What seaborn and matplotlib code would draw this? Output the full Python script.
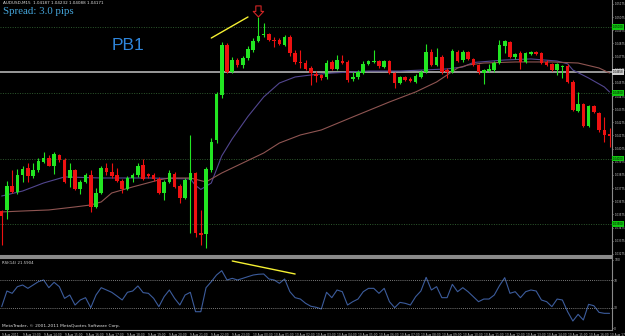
import numpy as np
import pandas as pd
import matplotlib
matplotlib.use("Agg")
import matplotlib.pyplot as plt
import seaborn as sns

# ---------------- data (AUDUSD M15) ----------------
open_ = [1.03601, 1.03609, 1.03791, 1.03746, 1.03875, 1.03928, 1.03867, 1.03913, 1.03974, 1.04004,
         1.03943, 1.04027, 1.03989, 1.03852, 1.03913, 1.03769, 1.03822, 1.03875, 1.03632, 1.03738,
         1.03928, 1.03898, 1.03875, 1.03829, 1.03769, 1.03852, 1.03875, 1.03951, 1.03883, 1.03875,
         1.03845, 1.03738, 1.03822, 1.03883, 1.03791, 1.03700, 1.03837, 1.03890, 1.03434, 1.03427,
         1.03913, 1.04141, 1.04483, 1.04863, 1.04658, 1.04749, 1.04711, 1.04764, 1.04825, 1.04893,
         1.04939, 1.04947, 1.04901, 1.04901, 1.04863, 1.04924, 1.04802, 1.04734, 1.04726, 1.04688,
         1.04643, 1.04635, 1.04620, 1.04734, 1.04681, 1.04741, 1.04734, 1.04605, 1.04620, 1.04650,
         1.04719, 1.04734, 1.04741, 1.04696, 1.04741, 1.04650, 1.04574, 1.04620, 1.04605, 1.04582,
         1.04620, 1.04658, 1.04810, 1.04711, 1.04772, 1.04673, 1.04658, 1.04810, 1.04749, 1.04810,
         1.04757, 1.04711, 1.04650, 1.04665, 1.04673, 1.04726, 1.04855, 1.04886, 1.04772, 1.04802,
         1.04734, 1.04795, 1.04810, 1.04802, 1.04734, 1.04719, 1.04673, 1.04696, 1.04703, 1.04582,
         1.04361, 1.04415, 1.04247, 1.04400, 1.04346, 1.04217, 1.04187]
high = [1.03609, 1.03829, 1.03913, 1.03921, 1.03943, 1.03966, 1.03966, 1.04004, 1.04050, 1.04027,
        1.04050, 1.04035, 1.04004, 1.03966, 1.03921, 1.03837, 1.03890, 1.03913, 1.03776, 1.03943,
        1.03966, 1.03966, 1.03928, 1.03845, 1.03867, 1.03890, 1.03966, 1.03997, 1.03890, 1.03890,
        1.03860, 1.03837, 1.03913, 1.03898, 1.03807, 1.03852, 1.04179, 1.03898, 1.03609, 1.03936,
        1.04156, 1.04506, 1.04886, 1.04878, 1.04772, 1.04764, 1.04779, 1.04855, 1.04916, 1.05076,
        1.05030, 1.04954, 1.04924, 1.04916, 1.04939, 1.04939, 1.04825, 1.04825, 1.04749, 1.04703,
        1.04665, 1.04643, 1.04749, 1.04749, 1.04787, 1.04787, 1.04749, 1.04658, 1.04673, 1.04741,
        1.04749, 1.04825, 1.04749, 1.04749, 1.04749, 1.04658, 1.04627, 1.04627, 1.04620, 1.04643,
        1.04673, 1.04871, 1.04833, 1.04840, 1.04787, 1.04688, 1.04833, 1.04825, 1.04825, 1.04817,
        1.04764, 1.04719, 1.04681, 1.04719, 1.04741, 1.04901, 1.04901, 1.04893, 1.04802, 1.04817,
        1.04810, 1.04817, 1.04817, 1.04810, 1.04749, 1.04726, 1.04726, 1.04711, 1.04719, 1.04597,
        1.04506, 1.04422, 1.04407, 1.04407, 1.04354, 1.04316, 1.04232]
low = [1.03343, 1.03541, 1.03738, 1.03731, 1.03822, 1.03822, 1.03852, 1.03898, 1.03966, 1.03940,
       1.03883, 1.03974, 1.03814, 1.03784, 1.03761, 1.03731, 1.03814, 1.03594, 1.03624, 1.03731,
       1.03875, 1.03852, 1.03822, 1.03738, 1.03761, 1.03822, 1.03860, 1.03837, 1.03852, 1.03829,
       1.03731, 1.03685, 1.03814, 1.03776, 1.03662, 1.03693, 1.03434, 1.03404, 1.03343, 1.03320,
       1.03898, 1.04118, 1.04460, 1.04650, 1.04650, 1.04696, 1.04688, 1.04749, 1.04810, 1.04886,
       1.04924, 1.04893, 1.04848, 1.04863, 1.04855, 1.04779, 1.04719, 1.04688, 1.04673, 1.04559,
       1.04582, 1.04597, 1.04605, 1.04673, 1.04673, 1.04719, 1.04582, 1.04589, 1.04605, 1.04643,
       1.04711, 1.04726, 1.04688, 1.04688, 1.04643, 1.04536, 1.04567, 1.04589, 1.04582, 1.04574,
       1.04612, 1.04650, 1.04703, 1.04703, 1.04643, 1.04612, 1.04650, 1.04734, 1.04734, 1.04749,
       1.04703, 1.04643, 1.04567, 1.04658, 1.04658, 1.04719, 1.04802, 1.04764, 1.04757, 1.04681,
       1.04726, 1.04787, 1.04787, 1.04719, 1.04703, 1.04665, 1.04635, 1.04612, 1.04574, 1.04361,
       1.04354, 1.04240, 1.04240, 1.04346, 1.04202, 1.04126, 1.04088]
close = [1.03563, 1.03791, 1.03746, 1.03875, 1.03921, 1.03867, 1.03913, 1.03981, 1.04004, 1.03943,
         1.04035, 1.03989, 1.03822, 1.03913, 1.03769, 1.03822, 1.03875, 1.03632, 1.03738, 1.03928,
         1.03898, 1.03867, 1.03829, 1.03769, 1.03852, 1.03875, 1.03943, 1.03845, 1.03867, 1.03845,
         1.03738, 1.03822, 1.03890, 1.03784, 1.03700, 1.03837, 1.03890, 1.03434, 1.03419, 1.03921,
         1.04126, 1.04491, 1.04863, 1.04658, 1.04749, 1.04711, 1.04764, 1.04833, 1.04893, 1.04931,
         1.04947, 1.04901, 1.04893, 1.04871, 1.04924, 1.04802, 1.04734, 1.04726, 1.04681, 1.04650,
         1.04627, 1.04612, 1.04726, 1.04681, 1.04749, 1.04726, 1.04597, 1.04620, 1.04658, 1.04719,
         1.04741, 1.04741, 1.04703, 1.04741, 1.04650, 1.04574, 1.04620, 1.04597, 1.04589, 1.04627,
         1.04658, 1.04810, 1.04711, 1.04772, 1.04658, 1.04658, 1.04817, 1.04741, 1.04810, 1.04757,
         1.04711, 1.04658, 1.04673, 1.04681, 1.04726, 1.04863, 1.04893, 1.04772, 1.04795, 1.04734,
         1.04802, 1.04810, 1.04795, 1.04726, 1.04711, 1.04673, 1.04719, 1.04703, 1.04582, 1.04369,
         1.04415, 1.04247, 1.04400, 1.04354, 1.04217, 1.04179, 1.04171]

ma_fast_bar = [0, 4, 8, 12, 19, 28, 36, 37, 38, 40, 42, 44, 47, 50, 53, 56, 59, 63, 70, 76,
               85, 88, 90, 96, 101, 106, 108, 109, 112, 115, 116]
ma_fast = [1.03715, 1.03753, 1.03814, 1.03860, 1.03852, 1.03852, 1.03845, 1.03795, 1.03765, 1.03814,
           1.04020, 1.04150, 1.04320, 1.04468, 1.04574, 1.04620, 1.04635, 1.04650, 1.04665, 1.04665,
           1.04681, 1.04696, 1.04730, 1.04749, 1.04757, 1.04741, 1.04720, 1.04673, 1.04612, 1.04544,
           1.04506]
ma_slow_bar = [0, 4, 9, 14, 17, 19, 21, 25, 30, 32, 36, 39, 42, 46, 50, 53, 57, 61, 67, 74,
               79, 83, 87, 89, 92, 98, 105, 110, 114, 116]
ma_slow = [1.03594, 1.03601, 1.03609, 1.03632, 1.03647, 1.03670, 1.03738, 1.03784, 1.03837, 1.03852,
           1.03852, 1.03822, 1.03890, 1.03966, 1.04042, 1.04118, 1.04179, 1.04217, 1.04316, 1.04430,
           1.04506, 1.04582, 1.04688, 1.04711, 1.04726, 1.04734, 1.04734, 1.04726, 1.04688, 1.04650]

rsi = [31.4, 54.4, 51.0, 60.8, 63.2, 58.3, 63.2, 68.1, 70.6, 59.3,
       67.2, 60.8, 43.6, 48.5, 33.8, 41.2, 44.6, 29.9, 48.5, 59.3,
       55.9, 52.5, 47.0, 41.2, 52.5, 54.4, 61.8, 52.0, 51.0, 43.6,
       31.4, 46.1, 55.9, 43.6, 33.8, 48.5, 52.5, 24.0, 24.0, 59.3,
       68.1, 77.9, 84.3, 70.6, 73.0, 70.6, 73.0, 75.5, 77.9, 79.0,
       79.4, 72.1, 70.6, 65.7, 72.1, 53.4, 44.6, 42.6, 36.3, 32.0,
       30.5, 28.0, 52.5, 44.6, 55.9, 53.4, 33.8, 38.7, 42.6, 53.4,
       58.3, 58.3, 51.0, 58.3, 38.7, 29.9, 37.7, 36.3, 33.8, 46.1,
       54.4, 74.5, 55.9, 60.8, 44.6, 44.6, 64.2, 53.4, 59.3, 53.4,
       46.1, 38.7, 42.6, 42.6, 48.5, 62.3, 74.0, 51.0, 53.4, 44.6,
       53.4, 55.9, 54.4, 41.2, 38.7, 31.4, 42.6, 41.2, 24.0, 10.3,
       20.1, 11.8, 34.8, 32.8, 23.0, 21.6, 21.6]

time_labels = ["9 Aug 2011", "9 Aug 13:00", "9 Aug 14:00", "9 Aug 15:00", "9 Aug 16:00",
               "9 Aug 17:00", "9 Aug 18:00", "9 Aug 19:00", "9 Aug 20:00", "9 Aug 21:00",
               "9 Aug 22:00", "9 Aug 23:00", "10 Aug 00:00", "10 Aug 01:00", "10 Aug 02:00",
               "10 Aug 03:00", "10 Aug 04:00", "10 Aug 05:00", "10 Aug 06:00", "10 Aug 07:00",
               "10 Aug 08:00", "10 Aug 09:00", "10 Aug 10:00", "10 Aug 11:00", "10 Aug 12:00",
               "10 Aug 13:00", "10 Aug 14:00", "10 Aug 15:00", "10 Aug 16:00", "10 Aug 17:00"]
price_ticks = [1.05175, 1.05075, 1.04975, 1.04875, 1.04775, 1.04675, 1.04575, 1.04475, 1.04375,
               1.04275, 1.04175, 1.04075, 1.03975, 1.03875, 1.03775, 1.03675, 1.03575, 1.03475,
               1.03375, 1.03275]
level_prices = [1.05000, 1.04500, 1.04000, 1.03500]
hline_price = 1.04658
rsi_ticks = [100, 70, 30, 0]
rsi_levels = [70, 30]
trend_bar = [40, 47]
trend_price = [1.04916, 1.05076]
rsi_trend_bar = [44, 56]
rsi_trend_val = [98.5, 79.4]
arrow_bar = 49
arrow_tip, arrow_tail = 1.05076, 1.05160

# ---------------- style ----------------
sns.set_style("dark", {"axes.facecolor": "black", "figure.facecolor": "black",
                       "axes.edgecolor": "#8a8a8a", "text.color": "white"})
plt.rcParams["font.family"] = ["DejaVu Sans"]

W, H = 625, 336
fig = plt.figure(figsize=(W / 100, H / 100), dpi=100, facecolor="black")
ax = fig.add_axes([0, 1 - 256 / H, 612 / W, 256 / H])
ax2 = fig.add_axes([0, 6 / H, 612 / W, 72 / H])

n = len(close)
idx = np.arange(n)
o, hi, lo, c = (np.array(a) for a in (open_, high, low, close))
col = np.where(c >= o, "#22e622", "#ee1111")

ax.vlines(idx, lo, hi, colors=col, lw=0.8, zorder=3)
ax.bar(idx, np.maximum(np.abs(c - o), 0.00004), bottom=np.minimum(o, c), width=0.68,
       color=col, linewidth=0, zorder=4)

sns.lineplot(x=ma_fast_bar, y=ma_fast, ax=ax, color="#52468f", lw=0.8, zorder=2)
sns.lineplot(x=ma_slow_bar, y=ma_slow, ax=ax, color="#8f5552", lw=0.8, zorder=2)

for lv in level_prices:
    ax.axhline(lv, color="#2e5a2e", ls=(0, (1, 1.5)), lw=0.7, zorder=1)
    ax.text(1.001, lv, f"{lv:.5f}", transform=ax.get_yaxis_transform(), fontsize=1.9,
            color="black", va="center", ha="left", clip_on=False, zorder=10,
            bbox=dict(fc="#10c810", ec="none", pad=0.6))
ax.axhline(hline_price, color="#9a9a9a", lw=1.4, zorder=1)
ax.text(1.001, hline_price, f"{hline_price:.5f}", transform=ax.get_yaxis_transform(),
        fontsize=1.9, color="black", va="center", ha="left", clip_on=False, zorder=10,
        bbox=dict(fc="#d0d0d0", ec="none", pad=0.6))

ax.plot(trend_bar, trend_price, color="#f5f032", lw=1.0, zorder=5)
ax.annotate("", xy=(arrow_bar, arrow_tip), xytext=(arrow_bar, arrow_tail),
            arrowprops=dict(arrowstyle="simple,head_length=0.4,head_width=0.75,tail_width=0.38",
                            fc="black", ec="#d02525", lw=0.8, shrinkA=0, shrinkB=0), zorder=6)

ax.set_xlim(-0.32, 116.47)
ax.set_ylim(1.03259, 1.05205)
ax.yaxis.tick_right()
ax.set_yticks(price_ticks)
ax.set_yticklabels([f"{p:.5f}" for p in price_ticks])
ax.tick_params(axis="y", labelsize=1.9, colors="#c8c8c8", length=1, width=0.5, pad=0.6)
ax.set_xticks([])
ax.set_xlabel("")
ax.set_ylabel("")
for s in ("left", "top"):
    ax.spines[s].set_visible(False)
ax.spines["right"].set_color("#8a8a8a")
ax.spines["bottom"].set_color("#8a8a8a")
ax.spines["bottom"].set_linewidth(1.5)

# texts
fig.text(3 / W, 1 - 3.5 / H, "AUDUSD,M15  1.04187 1.04232 1.04088 1.04171", fontsize=3,
         color="#e0e0e0", va="center", ha="left")
fig.text(3 / W, 1 - 12 / H, "Spread: 3.0 pips", fontsize=7.8, family=["Liberation Serif"],
         color="#45a6dc", va="center", ha="left")
fig.text(112 / W, 1 - 46 / H, "PB1", fontsize=12.5, family=["Liberation Sans"],
         color="#2f86dc", va="center", ha="left")

# ---------------- RSI pane ----------------
sns.lineplot(x=idx, y=rsi, ax=ax2, color="#3c5c9c", lw=0.8)
for lv in rsi_levels:
    ax2.axhline(lv, color="#a0a0a0", ls=(0, (1, 1.5)), lw=0.6)
ax2.plot(rsi_trend_bar, rsi_trend_val, color="#f5f032", lw=1.0)
ax2.set_xlim(-0.32, 116.47)
ax2.set_ylim(-2.9, 102.9)
ax2.yaxis.tick_right()
ax2.set_yticks(rsi_ticks)
ax2.set_yticklabels([str(t) for t in rsi_ticks])
ax2.tick_params(axis="y", labelsize=2.2, colors="#c8c8c8", length=1, width=0.5, pad=0.6)
ax2.set_xticks(idx[::4][:len(time_labels)])
ax2.set_xticklabels(time_labels, ha="left")
ax2.tick_params(axis="x", labelsize=2.1, colors="#c8c8c8", length=1.5, width=0.5, pad=0.8)
ax2.set_xlabel("")
ax2.set_ylabel("")
ax2.spines["left"].set_visible(False)
for s in ("right", "top", "bottom"):
    ax2.spines[s].set_color("#8a8a8a")
ax2.spines["top"].set_linewidth(1.5)
ax2.text(0.003, 0.96, "RSI(14) 21.5904", transform=ax2.transAxes, fontsize=2.8,
         color="#d8d8d8", va="top", ha="left")
ax2.text(0.003, 0.03, "MetaTrader, \u00a9 2001-2011 MetaQuotes Software Corp.", transform=ax2.transAxes,
         fontsize=3.2, color="#e0e0e0", va="bottom", ha="left")

fig.savefig("out.png", dpi=100, facecolor="black")
